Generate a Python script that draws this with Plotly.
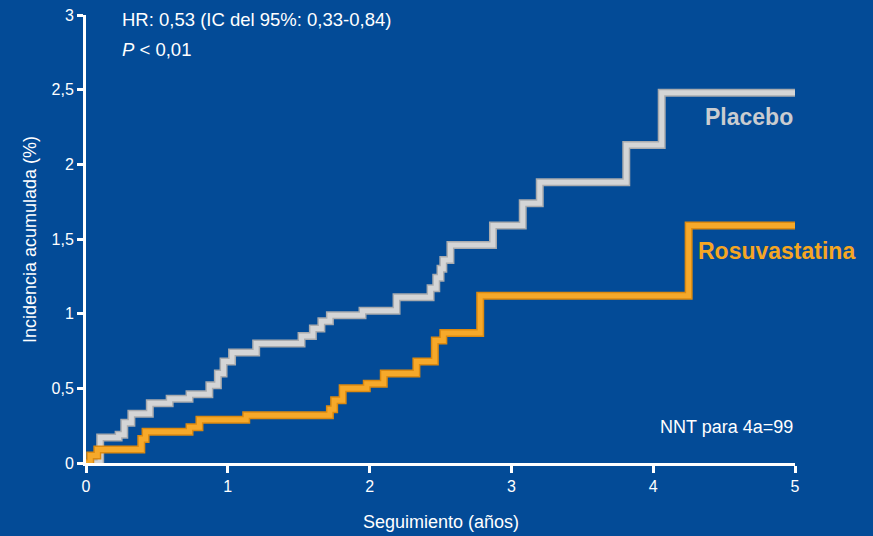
import plotly.graph_objects as go

# Placebo (gray) step curve
placebo_x = [0, 0.10, 0.23, 0.27, 0.32, 0.45, 0.59, 0.73, 0.87, 0.93, 0.97, 1.03, 1.20, 1.52, 1.60, 1.66, 1.72, 1.95, 2.19, 2.43, 2.47, 2.50, 2.52, 2.57, 2.87, 3.08, 3.20, 3.81, 4.06, 5.0]
placebo_y = [0, 0.17, 0.19, 0.27, 0.33, 0.40, 0.43, 0.46, 0.52, 0.60, 0.68, 0.74, 0.80, 0.85, 0.90, 0.95, 0.99, 1.02, 1.11, 1.17, 1.24, 1.30, 1.36, 1.46, 1.59, 1.74, 1.88, 2.13, 2.48, 2.48]

# Rosuvastatina (orange) step curve
rosu_x = [0, 0.03, 0.08, 0.39, 0.42, 0.73, 0.80, 1.13, 1.72, 1.75, 1.81, 1.98, 2.10, 2.33, 2.46, 2.52, 2.78, 4.25, 5.0]
rosu_y = [0, 0.05, 0.09, 0.16, 0.21, 0.24, 0.29, 0.32, 0.36, 0.42, 0.50, 0.53, 0.60, 0.68, 0.82, 0.87, 1.12, 1.59, 1.59]

x_ticks = [0, 1, 2, 3, 4, 5]
x_labels = ["0", "1", "2", "3", "4", "5"]
y_ticks = [0, 0.5, 1, 1.5, 2, 2.5, 3]
y_labels = ["0", "0,5", "1", "1,5", "2", "2,5", "3"]

BG = "#034b97"
FONT = "Liberation Sans Narrow, Arial Narrow, Arial, sans-serif"

fig = go.Figure()
for xs, ys, dark, light in [
    (placebo_x, placebo_y, "#a9abae", "#d4d5d6"),
    (rosu_x, rosu_y, "#dc8a10", "#f6a92a"),
]:
    fig.add_trace(go.Scatter(x=xs, y=ys, mode="lines", line=dict(shape="hv", color=dark, width=8),
                             hoverinfo="skip", showlegend=False, cliponaxis=False))
    fig.add_trace(go.Scatter(x=xs, y=ys, mode="lines", line=dict(shape="hv", color=light, width=5),
                             hoverinfo="skip", showlegend=False, cliponaxis=False))

fig.update_layout(
    width=873, height=536,
    paper_bgcolor=BG, plot_bgcolor=BG,
    margin=dict(l=86, r=78, t=15, b=73),
    font=dict(family=FONT, color="white", size=16),
    showlegend=False,
    xaxis=dict(range=[0, 5], tickvals=x_ticks, ticktext=x_labels, showgrid=False, zeroline=False,
               automargin=False,
               showline=True, linecolor="white", linewidth=3, ticks="outside", ticklen=7, tickwidth=3,
               tickcolor="white", tickfont=dict(size=16, color="white", family=FONT)),
    yaxis=dict(range=[0, 3], tickvals=y_ticks, ticktext=y_labels, showgrid=False, zeroline=False,
               automargin=False,
               showline=True, linecolor="white", linewidth=3, ticks="outside", ticklen=6, tickwidth=3,
               tickcolor="white", tickfont=dict(size=16, color="white", family=FONT)),
)

# axis titles
fig.add_annotation(x=(441 - 86) / 709, y=(463 - 522) / 448, xref="paper", yref="paper",
                   text="Seguimiento (años)",
                   showarrow=False, xanchor="center", yanchor="middle",
                   font=dict(size=18, color="white", family=FONT))
fig.add_annotation(x=(30 - 86) / 709, y=(463 - 240) / 448, xref="paper", yref="paper",
                   text="Incidencia acumulada (%)", textangle=-90,
                   showarrow=False, xanchor="center", yanchor="middle",
                   font=dict(size=18, color="white", family=FONT))

fig.add_annotation(x=0.24, y=2.97, xref="x", yref="y", text="HR: 0,53 (IC del 95%: 0,33-0,84)",
                   showarrow=False, xanchor="left", yanchor="middle",
                   font=dict(size=18.5, color="white", family=FONT))
fig.add_annotation(x=0.24, y=2.77, xref="x", yref="y", text="<i>P</i> < 0,01",
                   showarrow=False, xanchor="left", yanchor="middle",
                   font=dict(size=18.5, color="white", family=FONT))
fig.add_annotation(x=5.0, y=2.32, xref="x", yref="y", text="<b>Placebo</b>",
                   showarrow=False, xanchor="right", yanchor="middle",
                   font=dict(size=23, color="#c9ccd0", family=FONT))
fig.add_annotation(x=(857 - 86) / 709, y=1.42 / 3, xref="paper", yref="paper", text="<b>Rosuvastatina</b>",
                   showarrow=False, xanchor="right", yanchor="middle",
                   font=dict(size=23, color="#f5a623", family=FONT))
fig.add_annotation(x=5.0, y=0.24, xref="x", yref="y", text="NNT para 4a=99",
                   showarrow=False, xanchor="right", yanchor="middle",
                   font=dict(size=18, color="white", family=FONT))

fig.write_html("out.html")
